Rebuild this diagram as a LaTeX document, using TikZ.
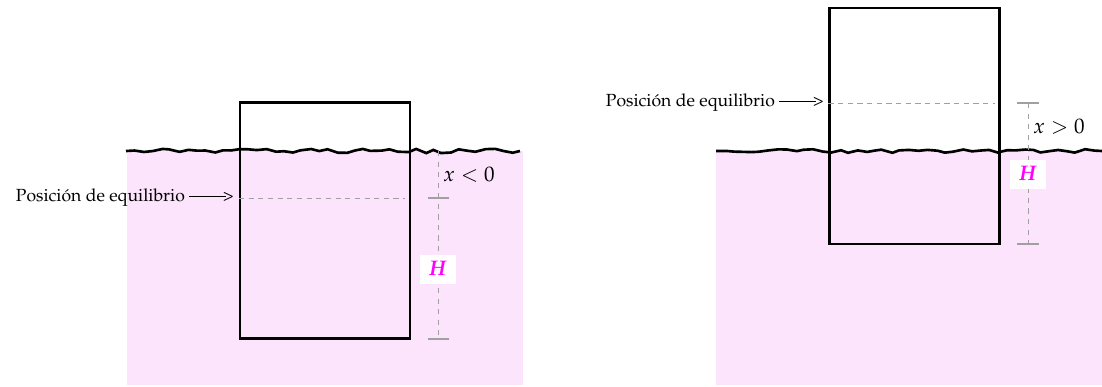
\documentclass[tikz,border=0pt]{standalone}
\usepackage[T1]{fontenc}
\usepackage{mathpazo}
\usetikzlibrary{decorations.pathmorphing, positioning}
\definecolor{agua}{HTML}{FCE4FC}
\definecolor{gristrazo}{HTML}{A0A0A0}
\definecolor{rosa}{HTML}{FF00FF}
\newcommand{\flechita}{\rule[0.6ex]{2.1em}{0.45pt}\kern-1.8pt>}
\tikzset{
  superficie/.style={line width=1.5pt, decorate,
                     decoration={random steps, segment length=5pt, amplitude=1.2pt}},
  bloque/.style={draw, line width=1.3pt, minimum width=3.4cm, minimum height=4.72cm, inner sep=0pt},
  equil/.style={color=gristrazo, line width=0.5pt, dash pattern=on 3pt off 2.5pt},
  cota/.style={color=gristrazo, line width=0.5pt, dash pattern=on 3pt off 3pt},
  marca/.style={color=gristrazo, line width=1.1pt},
  etiq/.style={anchor=east, inner sep=0pt},
  hache/.style={fill=white, text=rosa, minimum width=0.72cm, minimum height=0.58cm, inner sep=0pt}
}
\begin{document}
\begin{tikzpicture}[x=0.02cm, y=-0.02cm]
  \useasboundingbox (0,0) rectangle (1102,386);
  % izquierda: x < 0
  \fill [agua] (127,151) rectangle (523,385);
  \node (bloqueA) [bloque] at (325,220.5) {};
  \pgfmathsetseed{7}
  \draw [superficie] (126,151) -- (520,151);
  \node (textoA) [etiq] at (234,198) {Posición de equilibrio \flechita};
  \coordinate (finA) at (405,198);
  \draw [equil] (bloqueA.west |- textoA) -- (finA);
  \coordinate (cotaA1) at (438,151);
  \coordinate (cotaA2) at (438,339);
  \draw [cota] (cotaA1) -- (cotaA2);
  \draw [marca] (428,198) -- (449,198);
  \draw [marca] (428,339) -- (449,339);
  \node (xA) at (469,175) {\large $x<0$};
  \node (hA) [hache] at (438,269) {\large\textbf{\textit{H}}};
  % derecha: x > 0
  \fill [agua] (716,151) rectangle (1102,385);
  \node (bloqueB) [bloque] at (914.5,126) {};
  \pgfmathsetseed{11}
  \draw [superficie] (716,151) -- (1102,151);
  \node (textoB) [etiq] at (824,103) {Posición de equilibrio \flechita};
  \coordinate (finB) at (995,103);
  \draw [equil] (bloqueB.west |- textoB) -- (finB);
  \coordinate (cotaB1) at (1028,103);
  \coordinate (cotaB2) at (1028,244);
  \draw [cota] (cotaB1) -- (cotaB2);
  \draw [marca] (1017,103) -- (1039,103);
  \draw [marca] (1017,244) -- (1039,244);
  \node (xB) at (1059,127) {\large $x>0$};
  \node (hB) [hache] at (1028,174) {\large\textbf{\textit{H}}};
\end{tikzpicture}
\end{document}
